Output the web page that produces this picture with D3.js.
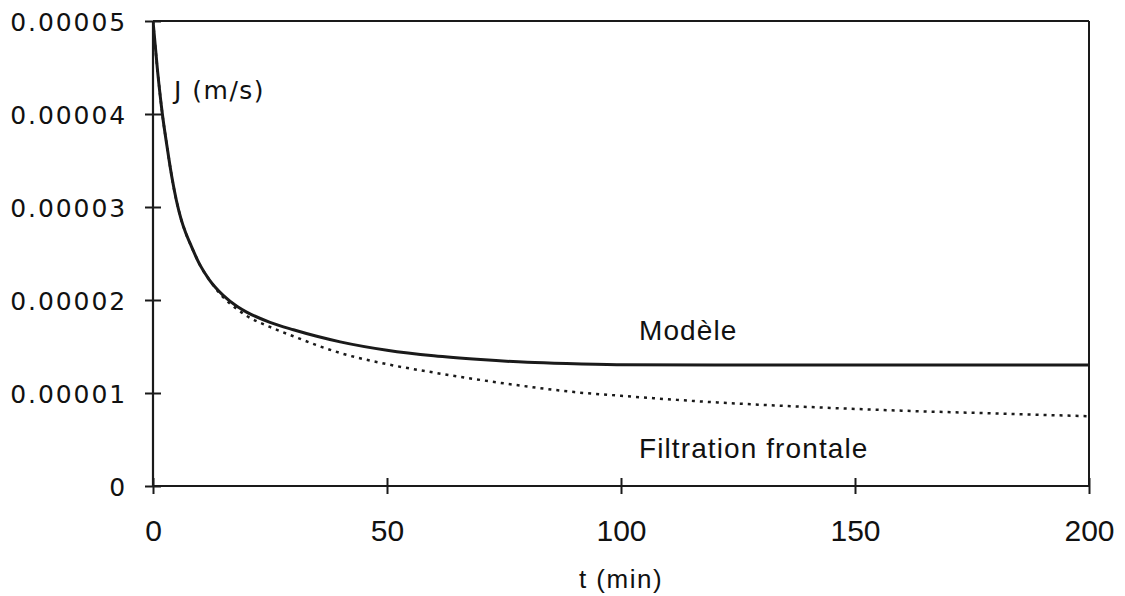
<!DOCTYPE html>
<html>
<head>
<meta charset="utf-8">
<script src="https://cdn.jsdelivr.net/npm/d3@7"></script>
<style>
  html, body { margin: 0; padding: 0; background: #fff; }
  svg { display: block; }
</style>
</head>
<body>
<svg id="chart" width="1125" height="596"></svg>
<script>
// ---- Data (J in units of 1e-5 m/s, t in minutes) ----
const modeleT = [0, 1, 2, 3, 4, 5, 6, 7, 8, 10, 12, 15, 18, 20, 25, 30, 35, 40, 50, 60, 70, 80, 90, 100, 120, 140, 160, 180, 200];
const modeleJ = [5.0, 4.45, 4.0, 3.65, 3.33, 3.07, 2.87, 2.72, 2.6, 2.38, 2.22, 2.05, 1.93, 1.87, 1.76, 1.68, 1.61, 1.55, 1.46, 1.40, 1.36, 1.33, 1.315, 1.305, 1.30, 1.30, 1.30, 1.30, 1.30];

const frontaleT = [0, 1, 2, 3, 4, 5, 6, 7, 8, 10, 12, 15, 18, 20, 25, 30, 40, 50, 60, 70, 80, 90, 100, 120, 140, 160, 180, 200];
const frontaleJ = [5.0, 4.45, 4.0, 3.65, 3.33, 3.07, 2.87, 2.72, 2.6, 2.38, 2.22, 2.03, 1.90, 1.83, 1.71, 1.61, 1.43, 1.31, 1.22, 1.14, 1.07, 1.01, 0.97, 0.90, 0.85, 0.81, 0.78, 0.75];

const xTicks = [0, 50, 100, 150, 200];
const yTicks = [0, 1, 2, 3, 4, 5];
const yTickLabels = ["0", "0.00001", "0.00002", "0.00003", "0.00004", "0.00005"];

const yLabel = "J (m/s)";
const xLabel = "t (min)";
const seriesLabels = ["Modèle", "Filtration frontale"];

// ---- Layout ----
const W = 1125, H = 596;
const margin = { left: 153, right: 36, top: 21, bottom: 110 };
const iw = W - margin.left - margin.right;
const ih = H - margin.top - margin.bottom;

const svg = d3.select("#chart");
const g = svg.append("g").attr("transform", `translate(${margin.left},${margin.top})`);

const x = d3.scaleLinear().domain([0, 200]).range([0, iw]);
const y = d3.scaleLinear().domain([0, 5]).range([ih, 0]);

svg.append("defs").append("clipPath").attr("id", "clip")
  .append("rect").attr("x", 0).attr("y", -2).attr("width", iw).attr("height", ih + 2);

// frame (top & right)
g.append("line").attr("x1", 0).attr("x2", iw).attr("y1", 0).attr("y2", 0)
  .attr("stroke", "#1a1a1a").attr("stroke-width", 2);
g.append("line").attr("x1", iw).attr("x2", iw).attr("y1", 0).attr("y2", ih)
  .attr("stroke", "#1a1a1a").attr("stroke-width", 2);

// y axis
const yAxis = d3.axisLeft(y)
  .tickValues(yTicks)
  .tickFormat(d => yTickLabels[yTicks.indexOf(d)])
  .tickSize(8)
  .tickPadding(18);
const gy = g.append("g").call(yAxis);
gy.select(".domain").attr("stroke", "#1a1a1a").attr("stroke-width", 2.2).attr("d", `M0,0V${ih}`);
gy.selectAll(".tick line").attr("x1", 8).attr("stroke", "#1a1a1a").attr("stroke-width", 2);
gy.selectAll(".tick text")
  .attr("font-family", "DejaVu Sans")
  .attr("font-size", 25)
  .attr("letter-spacing", 1.9)
  .attr("fill", "#111")
  .attr("dy", "0.36em");

// x axis
const xAxis = d3.axisBottom(x)
  .tickValues(xTicks)
  .tickFormat(d3.format("d"))
  .tickSize(8)
  .tickPadding(26);
const gx = g.append("g").attr("transform", `translate(0,${ih})`).call(xAxis);
gx.select(".domain").attr("stroke", "#1a1a1a").attr("stroke-width", 2.2).attr("d", `M0,0H${iw}`);
gx.selectAll(".tick line").attr("y1", -8).attr("stroke", "#1a1a1a").attr("stroke-width", 2);
gx.selectAll(".tick text")
  .attr("font-family", "Liberation Sans")
  .attr("font-size", 30)
  .attr("fill", "#111");

// lines
const line = d3.line().x(d => x(d[0])).y(d => y(d[1])).curve(d3.curveMonotoneX);
const plot = g.append("g").attr("clip-path", "url(#clip)");

plot.append("path")
  .datum(frontaleT.map((t, i) => [t, frontaleJ[i]]))
  .attr("d", line)
  .attr("fill", "none")
  .attr("stroke", "#1a1a1a")
  .attr("stroke-width", 2.5)
  .attr("stroke-dasharray", "3,5");

plot.append("path")
  .datum(modeleT.map((t, i) => [t, modeleJ[i]]))
  .attr("d", line)
  .attr("fill", "none")
  .attr("stroke", "#1a1a1a")
  .attr("stroke-width", 3);

// labels
svg.append("text")
  .attr("x", 174).attr("y", 99)
  .attr("font-family", "DejaVu Sans").attr("font-size", 25)
  .attr("letter-spacing", 1.5)
  .attr("fill", "#111")
  .text(yLabel);

svg.append("text")
  .attr("x", 639).attr("y", 340)
  .attr("font-family", "Liberation Sans").attr("font-size", 28)
  .attr("letter-spacing", 1.1)
  .attr("fill", "#111")
  .text(seriesLabels[0]);

svg.append("text")
  .attr("x", 639).attr("y", 458)
  .attr("font-family", "Liberation Sans").attr("font-size", 28)
  .attr("letter-spacing", 1.1)
  .attr("fill", "#111")
  .text(seriesLabels[1]);

svg.append("text")
  .attr("x", margin.left + x(100)).attr("y", 588)
  .attr("text-anchor", "middle")
  .attr("font-family", "Liberation Sans").attr("font-size", 26)
  .attr("letter-spacing", 1.5)
  .attr("fill", "#111")
  .text(xLabel);
</script>
</body>
</html>
